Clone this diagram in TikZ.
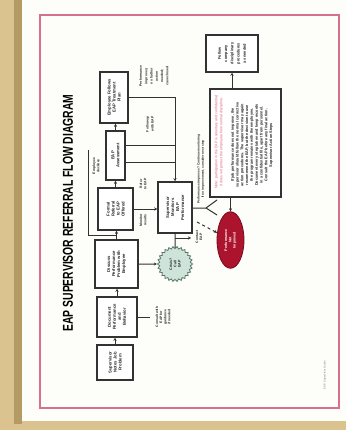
\documentclass[tikz,border=0pt]{standalone}
\usepackage{fontspec}
\usepackage{graphicx}
\setmainfont{Liberation Sans}
\usetikzlibrary{arrows.meta,shapes.geometric,calc}
\definecolor{tanbg}{RGB}{219,195,143}
\definecolor{tandark}{RGB}{180,155,100}
\definecolor{paper}{RGB}{253,253,249}
\definecolor{pinkc}{RGB}{214,112,146}
\definecolor{boxc}{RGB}{50,50,50}
\definecolor{txtc}{RGB}{35,35,35}
\definecolor{starfill}{RGB}{206,228,218}
\definecolor{starline}{RGB}{90,118,106}
\definecolor{redd}{RGB}{172,20,46}
\definecolor{reddark}{RGB}{120,10,30}
\definecolor{redtxt}{RGB}{222,90,120}
\tikzset{
  bx/.style={draw=boxc, line width=1.5pt, fill=white, rotate=90, align=center,
    inner sep=1pt, text=txtc, font=\fontsize{4.2}{5}\selectfont\bfseries},
  lbl/.style={rotate=90, align=center, inner sep=0pt, text=txtc,
    font=\fontsize{3.4}{4.1}\selectfont\bfseries},
  conn/.style={draw=boxc, line width=1pt},
  arr/.style={conn, -{Stealth[length=3pt,width=3pt]}}
}
\begin{document}
\begin{tikzpicture}[x=1pt,y=-1pt]
\useasboundingbox (0,0) rectangle (346,430);
% background and paper
\fill[tanbg] (0,0) rectangle (346,430);
\fill[tandark] (14,0) rectangle (22,424);
\fill[paper] (22,0) rectangle (346,421);
\draw[pinkc, line width=1.2pt] (40,15) rectangle (339,408);
% title
\node[rotate=90, inner sep=0pt, text=black] (title) at (68,213)
  {\resizebox{237pt}{10pt}{\bfseries EAP SUPERVISOR REFERRAL FLOW DIAGRAM}};
% main column boxes
\node[bx, minimum width=35pt, minimum height=36pt] (A) at (115,362.5)
  {Supervisor\\Notes Job\\Problem};
\node[bx, minimum width=40pt, minimum height=40pt] (B) at (117,317)
  {Document\\Performance\\and\\Behavior};
\node[bx, minimum width=48pt, minimum height=43pt] (C) at (116.5,264)
  {Discuss\\Performance\\Problem with\\Employee};
\node[bx, minimum width=42pt, minimum height=35pt] (D) at (115.5,209)
  {Formal\\Referral\\to EAP\\Offered};
\node[bx, minimum width=49pt, minimum height=19pt] (E) at (115.5,155.5)
  {EAP\\Assessment};
\node[bx, minimum width=51pt, minimum height=28pt] (F) at (114,97.5)
  {Employee Follows\\EAP Treatment\\Plan};
% second column
\node[bx, minimum width=51pt, minimum height=34pt] (G) at (175,207.5)
  {Supervisor\\Monitors\\EAP\\Performance};
\node[star, star points=26, star point ratio=1.14, minimum size=35pt,
  fill=starfill, draw=starline, line width=0.8pt, rotate=90, inner sep=0pt,
  align=center, text=txtc, font=\fontsize{3.6}{4.3}\selectfont\bfseries]
  (S) at (175,264) {Crisis?\\Call\\EAP};
\node[ellipse, fill=redd, draw=reddark, line width=0.8pt, minimum width=27pt,
  minimum height=47pt, inner sep=0pt] (O) at (230.5,240)
  {\rotatebox{90}{\parbox{40pt}{\centering\color{white}\fontsize{3.6}{4.3}\selectfont\bfseries
  Performance\\Not\\Improved}}};
% big box and top right box
\node[bx, minimum width=108pt, minimum height=71pt] (Big) at (245.5,143) {};
\node[lbl, text=redtxt, font=\fontsize{3.6}{5}\selectfont] (red) at (219,142)
  {Note: participation in the EAP is voluntary and confidential;\\
   it does not protect the employee from normal discipline.};
\node[lbl, font=\fontsize{3.8}{4.8}\selectfont\bfseries] (bigtxt) at (252,145)
  {If job performance does not improve, the\\
   supervisor should follow the normal corrective\\
   action procedures. The supervisor may again\\
   recommend the EAP, but the decision to use\\
   the program remains with the employee.\\
   Document every step taken and keep records\\
   in a confidential file, apart from personnel.\\
   Consult the EAP before any final action.\\
   Supervisor Action Steps};
\node[bx, minimum width=37pt, minimum height=52pt,
  font=\fontsize{3.9}{6.2}\selectfont\bfseries] (TR) at (232,53.5)
  {Follow\\company\\disciplinary\\procedures\\as needed};
% labels
\node[lbl] (lbB) at (163,317) {Consult with\\EAP for\\guidance\\if needed};
\node[lbl, font=\fontsize{3.4}{5.3}\selectfont\bfseries] (lbTop) at (154,76)
  {Performance\\improves;\\no further\\action\\needed;\\case closed};
\node[lbl, font=\fontsize{3.4}{5}\selectfont\bfseries] (lbMid) at (150,124) {Follow-up\\with EAP};
\node[lbl] (lbL) at (96,166) {Employee\\declines};
\node[lbl] (lbDG1) at (143,184) {Refer\\to EAP};
\node[lbl] (lbDG2) at (143,220) {Monitor\\results};
\node[lbl] (lbS) at (199,237) {Contact\\EAP};
\node[lbl, font=\fontsize{3.2}{4.3}\selectfont\bfseries] (lbLong) at (201,169)
  {Performance improves? Continue monitoring\\If no improvement, consider next step};
\node[lbl, text=gray, font=\fontsize{2.8}{3}\selectfont] (foot) at (325,375)
  {EAP Supervisor Guide};
% connectors in main column
\draw[arr] (A.east) -- (A.east |- B.west);
\draw[arr] (B.east) -- (B.east |- C.west);
\draw[arr] (C.east) -- (C.east |- D.west);
\draw[arr] (D.east) -- (D.east |- E.west);
\draw[arr] (E.east) -- (E.east |- F.west);
\coordinate (bn) at (150,317);
\draw[conn] (B.south) -- (bn);
\draw[arr] (C.south) -- (S);
% loop at left
\coordinate (cd) at (115.5,235);
\coordinate (lc) at (88,235);
\coordinate (lp) at (88,150);
\draw[conn, line width=0.8pt] (cd) -- (lc) -- (lp);
% D to G
\draw[arr] (D.south) -- (D.south -| G.north);
% F and E into G
\coordinate (j1) at (175,97.5);
\coordinate (j2) at (175,146);
\coordinate (j3) at (175,163);
\draw[arr] (F.south) -- (j1) -- (G.east);
\draw[conn] (E.south |- j2) -- (j2);
\draw[conn] (E.south |- j3) -- (j3);
% G to starburst and tick
\draw[conn] (G.west) -- (S);
\coordinate (gt) at (175,238);
\coordinate (gt2) at (191,238);
\draw[arr] (gt) -- (gt2);
% fork
\coordinate (f0) at (206,208);
\coordinate (f1) at (217,200);
\coordinate (f2) at (217,215);
\draw[conn] (G.south |- f0) -- (f0) -- (f1);
\draw[conn] (f0) -- (f2);
% dashed to oval
\coordinate (d0) at (197,222);
\draw[arr, dashed] (d0) -- (O);
% big box links
\draw[arr] (Big.east -| TR) -- (TR.west);
\draw[arr] (Big.west -| O) -- (O);
\end{tikzpicture}
\end{document}
